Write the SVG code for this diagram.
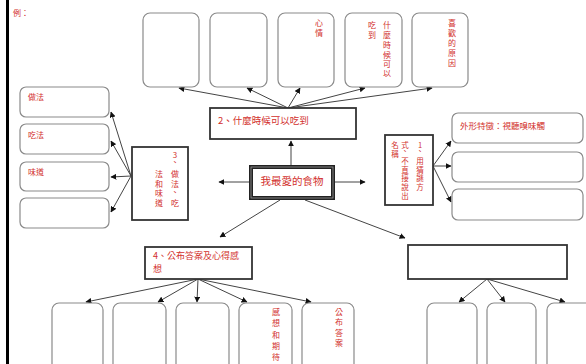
<svg xmlns="http://www.w3.org/2000/svg" width="586" height="364" viewBox="0 0 586 364">
<defs>
<marker id="ah" viewBox="0 0 10 10" refX="9" refY="5" markerWidth="6" markerHeight="6" markerUnits="userSpaceOnUse" orient="auto"><path d="M0,0 L10,5 L0,10 z" fill="#111"/></marker>
<style>
.rb{fill:#fff;stroke:#8a8a8a;stroke-width:1.2}
.nd{fill:#fff;stroke:#333;stroke-width:1.8}
.t{font-family:"Noto Sans CJK TC","Noto Sans CJK SC",sans-serif;fill:#d2302c;font-size:9px}
.v{text-anchor:middle;font-size:8px}
.s{font-size:7.5px}
.c line{stroke:#444;stroke-width:1;marker-end:url(#ah)}
</style>
</defs>
<rect x="0" y="0" width="586" height="364" fill="#fff"/>
<rect x="6" y="0" width="3" height="364" fill="#000"/>
<text class="t" x="13" y="16" style="font-size:8px">例：</text>

<g class="c">
<line x1="288" y1="108" x2="179" y2="88"/>
<line x1="288" y1="108" x2="247" y2="88"/>
<line x1="288" y1="108" x2="300" y2="88"/>
<line x1="288" y1="108" x2="365" y2="88"/>
<line x1="288" y1="108" x2="432" y2="88"/>
<line x1="291" y1="165" x2="291" y2="141"/>
<line x1="249" y1="182" x2="219" y2="182"/>
<line x1="335" y1="182" x2="365" y2="182"/>
<line x1="280" y1="200" x2="220" y2="237"/>
<line x1="305" y1="200" x2="405" y2="238"/>
<line x1="433" y1="166" x2="451" y2="141"/>
<line x1="433" y1="166" x2="451" y2="166"/>
<line x1="433" y1="166" x2="451" y2="202"/>
<line x1="131" y1="176" x2="111" y2="112"/>
<line x1="131" y1="176" x2="111" y2="141"/>
<line x1="131" y1="176" x2="111" y2="177"/>
<line x1="131" y1="176" x2="111" y2="212"/>
<line x1="198" y1="279" x2="86" y2="302"/>
<line x1="198" y1="279" x2="158" y2="302"/>
<line x1="198" y1="279" x2="197" y2="302"/>
<line x1="198" y1="279" x2="247" y2="302"/>
<line x1="198" y1="279" x2="311" y2="302"/>
<line x1="487" y1="279" x2="459" y2="302"/>
<line x1="487" y1="279" x2="505" y2="302"/>
<line x1="487" y1="279" x2="565" y2="302"/>
</g>

<g id="top1"><rect class="rb" x="143" y="13" width="56" height="74" rx="7"/></g>
<g id="top2"><rect class="rb" x="210" y="13" width="57" height="74" rx="7"/></g>
<g id="top3"><rect class="rb" x="278" y="13" width="56" height="74" rx="7"/>
<text class="t v" x="319 319" y="26 36">心情</text></g>
<g id="top4"><rect class="rb" x="345" y="13" width="57" height="74" rx="7"/>
<text class="t v" x="387 387 387 387 387 387" y="28 38 48 57.5 66.5 76">什麼時候可以</text>
<text class="t v" x="372 372" y="28 38">吃到</text></g>
<g id="top5"><rect class="rb" x="412" y="13" width="56" height="74" rx="7"/>
<text class="t v" x="452 452 452 452 452" y="26 36 46 56 66">喜歡的原因</text></g>

<g id="node2"><rect class="nd" x="210" y="108" width="146" height="31"/>
<text class="t" x="218" y="123.5" style="font-size:9.5px">2、什麼時候可以吃到</text></g>

<g id="center">
<rect x="251" y="167" width="82" height="31" fill="#fff" stroke="#222" stroke-width="4"/>
<rect x="251" y="167" width="82" height="31" fill="none" stroke="#999" stroke-width="0.8"/>
<text class="t" x="292" y="184.5" text-anchor="middle" style="font-size:10.5px">我最愛的食物</text></g>

<g id="node1"><rect class="nd" x="385" y="135" width="48" height="70"/>
<text class="t v s" x="420 420 420 420 420 420" y="147.5 154 164 172.5 181 190">1、用猜謎方</text>
<text class="t v s" x="405 405 405 405 405 405 405" y="147.5 154 164 172.5 181 190 198.5">式、不直接說出</text>
<text class="t v s" x="395 395" y="147.5 156.5">名稱</text></g>

<g id="r1"><rect class="rb" x="452" y="113" width="131" height="30" rx="6"/>
<text class="t" x="460" y="128.5" style="font-size:8.5px">外形特徵：視聽嗅味觸</text></g>
<g id="r2"><rect class="rb" x="452" y="152" width="131" height="30" rx="6"/></g>
<g id="r3"><rect class="rb" x="452" y="189" width="131" height="31" rx="6"/></g>

<g id="node3"><rect class="nd" x="132" y="147" width="56" height="73"/>
<text class="t v" x="175 175 175 175 175 175" y="158 165 176.5 186.5 195 206">3、做法、吃</text>
<text class="t v" x="159 159 159 159" y="176.5 186.5 195.5 206">法和味道</text></g>

<g id="l1"><rect class="rb" x="20" y="87" width="89" height="30" rx="6"/>
<text class="t" x="28" y="100" style="font-size:8px">做法</text></g>
<g id="l2"><rect class="rb" x="20" y="124" width="89" height="30" rx="6"/>
<text class="t" x="28" y="138" style="font-size:8px">吃法</text></g>
<g id="l3"><rect class="rb" x="20" y="162" width="89" height="29" rx="6"/>
<text class="t" x="28" y="175" style="font-size:8px">味道</text></g>
<g id="l4"><rect class="rb" x="20" y="198" width="89" height="30" rx="6"/></g>

<g id="node4"><rect class="nd" x="145" y="247" width="107" height="32"/>
<text class="t" x="153" y="258.5" style="font-size:9px">4、公布答案及心得感</text>
<text class="t" x="153" y="272" style="font-size:9px">想</text></g>

<g id="b1"><rect class="rb" x="52" y="303" width="51" height="80" rx="7"/></g>
<g id="b2"><rect class="rb" x="113" y="303" width="53" height="80" rx="7"/></g>
<g id="b3"><rect class="rb" x="176" y="303" width="53" height="80" rx="7"/></g>
<g id="b4"><rect class="rb" x="239" y="303" width="53" height="80" rx="7"/>
<text class="t v" x="276 276 276 276 276" y="315 326 337.5 349 360">感想和期待</text></g>
<g id="b5"><rect class="rb" x="302" y="303" width="52" height="80" rx="7"/>
<text class="t v" x="339 339 339 339" y="315 325 336 346">公布答案</text></g>

<g id="node5"><rect class="nd" x="408" y="245" width="159" height="34"/></g>
<g id="b6"><rect class="rb" x="427" y="303" width="50" height="80" rx="7"/></g>
<g id="b7"><rect class="rb" x="487" y="303" width="49" height="80" rx="7"/></g>
<g id="b8"><rect class="rb" x="547" y="303" width="53" height="80" rx="7"/></g>
</svg>
